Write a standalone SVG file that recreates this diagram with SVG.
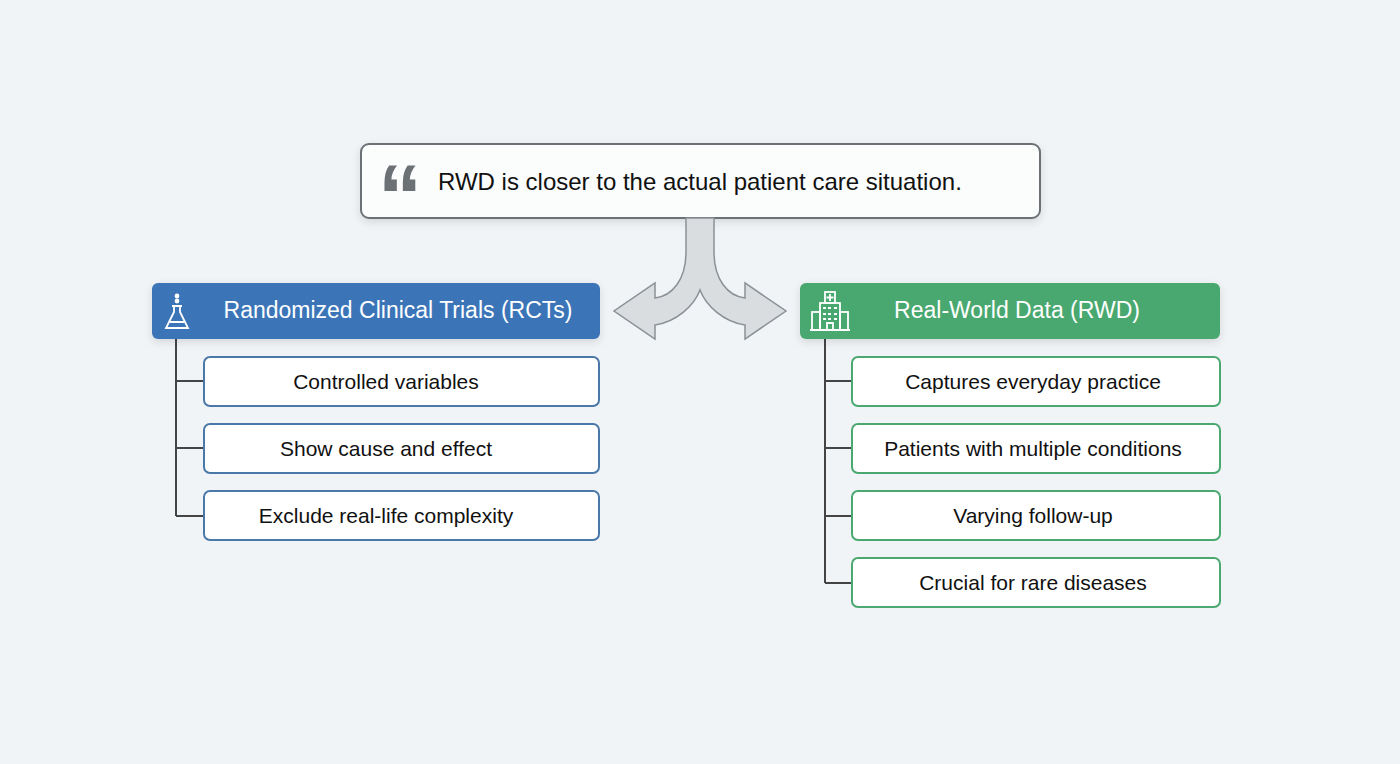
<svg xmlns="http://www.w3.org/2000/svg" width="1400" height="764" viewBox="0 0 1400 764">
<style>
text{font-family:"Liberation Sans",Arial,sans-serif}
.item{fill:#fff;stroke-width:2}
.b{stroke:#4a78a8}.g{stroke:#4aa870}
.it{font-size:21px;fill:#111;text-anchor:middle}
.hd{font-size:23px;fill:#fff;text-anchor:middle}
.tree{fill:none;stroke:#444;stroke-width:2}
.ic{fill:none;stroke:#fff;stroke-width:1.8}
</style>
<defs><filter id="sh" x="-10%" y="-20%" width="120%" height="150%"><feDropShadow dx="0" dy="3" stdDeviation="4" flood-color="#000" flood-opacity="0.12"/></filter></defs>
<rect width="1400" height="764" fill="#f1f4f7"/>
<g id="quote">
<rect x="361" y="144" width="679" height="74" rx="8" fill="#fbfcfc" stroke="#6c7176" stroke-width="2" filter="url(#sh)"/>
<text x="378" y="228" font-size="90" font-weight="bold" fill="#6c7176" font-family="Liberation Serif,serif" textLength="44" lengthAdjust="spacingAndGlyphs">“</text>
<text x="438" y="190" font-size="24" fill="#111">RWD is closer to the actual patient care situation.</text>
</g>
<g id="connectors">
<path d="M686 218 L686 252 C686 280 672 296 655 298 L655 283 L614 311 L655 339 L655 325 C676 322 694 306 700 290 C706 306 724 322 745 325 L745 339 L786 311 L745 283 L745 298 C728 296 714 280 714 252 L714 218 Z" fill="#d9dde0" stroke="#8a9096" stroke-width="1.5"/>
<path class="tree" d="M176 339 V516 M176 381 H204 M176 448 H204 M176 516 H204"/>
<path class="tree" d="M825 339 V583 M825 381 H852 M825 448 H852 M825 516 H852 M825 583 H852"/>
</g>
<g id="rct">
<rect x="152" y="283" width="448" height="56" rx="6" fill="#3a74b8" filter="url(#sh)"/>
<g class="ic"><path d="M174 306 V312 L166 328 H188 L180 312 V306 Z M172 306 H182 M170 322 H184"/><circle cx="177" cy="296" r="1.5" fill="#fff"/><circle cx="177" cy="301" r="1.5" fill="#fff"/></g>
<text class="hd" x="398" y="318">Randomized Clinical Trials (RCTs)</text>
</g>
<g id="rct1"><rect class="item b" x="204" y="357" width="395" height="49" rx="6"/><text class="it" x="386" y="389">Controlled variables</text></g>
<g id="rct2"><rect class="item b" x="204" y="424" width="395" height="49" rx="6"/><text class="it" x="386" y="456">Show cause and effect</text></g>
<g id="rct3"><rect class="item b" x="204" y="491" width="395" height="49" rx="6"/><text class="it" x="386" y="523">Exclude real-life complexity</text></g>
<g id="rwd">
<rect x="800" y="283" width="420" height="56" rx="6" fill="#4aa870" filter="url(#sh)"/>
<g class="ic"><rect x="820" y="303" width="20" height="27"/><rect x="812" y="312" width="8" height="18"/><rect x="840" y="312" width="8" height="18"/><rect x="825" y="292" width="10" height="11"/><path d="M830 294 V301 M826.5 297.5 H833.5 M810 330 H850 M827 330 V323 H833 V330"/><path d="M823 308 h3 M828 308 h3 M834 308 h3 M823 314 h3 M828 314 h3 M834 314 h3 M823 319 h3 M828 319 h3 M834 319 h3"/></g>
<text class="hd" x="1017" y="318">Real-World Data (RWD)</text>
</g>
<g id="rwd1"><rect class="item g" x="852" y="357" width="368" height="49" rx="6"/><text class="it" x="1033" y="389">Captures everyday practice</text></g>
<g id="rwd2"><rect class="item g" x="852" y="424" width="368" height="49" rx="6"/><text class="it" x="1033" y="456">Patients with multiple conditions</text></g>
<g id="rwd3"><rect class="item g" x="852" y="491" width="368" height="49" rx="6"/><text class="it" x="1033" y="523">Varying follow-up</text></g>
<g id="rwd4"><rect class="item g" x="852" y="558" width="368" height="49" rx="6"/><text class="it" x="1033" y="590">Crucial for rare diseases</text></g>
</svg>
